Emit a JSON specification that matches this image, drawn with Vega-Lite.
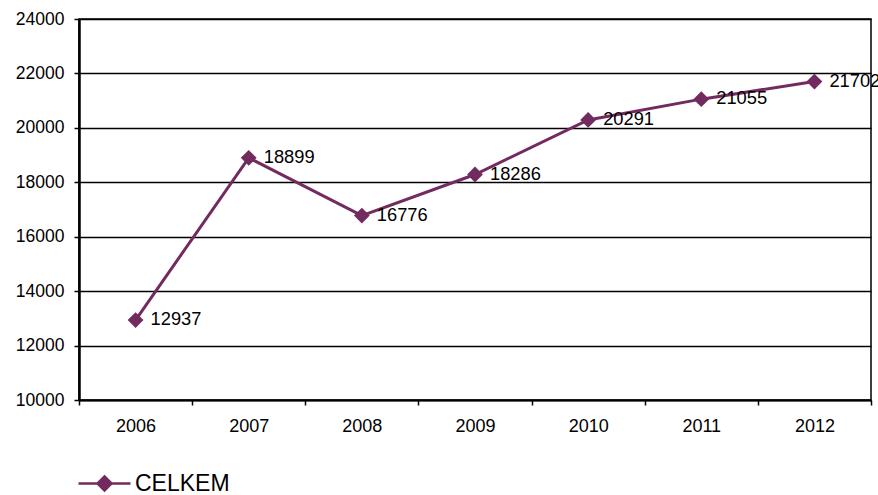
{
  "$schema": "https://vega.github.io/schema/vega-lite/v6.json",
  "width": 792,
  "height": 381,
  "autosize": "none",
  "padding": {"left": 79, "top": 19, "right": 7, "bottom": 95},
  "background": "white",
  "config": {
    "font": "Liberation Sans",
    "view": {"stroke": "black", "strokeWidth": 1.5}
  },
  "data": {
    "values": [
      {"year": "2006", "value": 12937, "series": "CELKEM"},
      {"year": "2007", "value": 18899, "series": "CELKEM"},
      {"year": "2008", "value": 16776, "series": "CELKEM"},
      {"year": "2009", "value": 18286, "series": "CELKEM"},
      {"year": "2010", "value": 20291, "series": "CELKEM"},
      {"year": "2011", "value": 21055, "series": "CELKEM"},
      {"year": "2012", "value": 21702, "series": "CELKEM"}
    ]
  },
  "encoding": {
    "x": {
      "field": "year",
      "type": "ordinal",
      "scale": {"type": "band", "paddingInner": 0, "paddingOuter": 0},
      "axis": {
        "title": null,
        "labelAngle": 0,
        "tickBand": "extent",
        "labelFontSize": 18,
        "labelPadding": 12,
        "labelColor": "black",
        "tickSize": 5,
        "tickColor": "black",
        "tickWidth": 1.5,
        "domainColor": "black",
        "domainWidth": 2
      }
    },
    "y": {
      "field": "value",
      "type": "quantitative",
      "scale": {"domain": [10000, 24000]},
      "axis": {
        "title": null,
        "values": [10000, 12000, 14000, 16000, 18000, 20000, 22000, 24000],
        "format": "d",
        "grid": true,
        "gridColor": "black",
        "gridOpacity": 1,
        "gridWidth": 1.4,
        "labelFontSize": 17.5,
        "labelPadding": 10,
        "labelColor": "black",
        "tickSize": 5,
        "tickColor": "black",
        "tickWidth": 1.5,
        "domainColor": "black",
        "domainWidth": 2.5
      }
    }
  },
  "layer": [
    {
      "mark": {"type": "line", "strokeWidth": 3},
      "encoding": {
        "color": {
          "field": "series",
          "type": "nominal",
          "scale": {"range": ["#722B5F"]},
          "legend": {
            "orient": "none",
            "legendX": -2,
            "legendY": 437,
            "title": null,
            "padding": 0,
            "symbolType": "M-1,0H1M0,-0.27L0.27,0L0,0.27L-0.27,0Z",
            "symbolSize": 2704,
            "symbolStrokeWidth": 2.5,
            "symbolFillColor": "#722B5F",
            "labelFontSize": 23,
            "labelColor": "black",
            "labelOffset": 3
          }
        }
      }
    },
    {
      "mark": {"type": "point", "shape": "diamond", "filled": true, "size": 250, "opacity": 1, "color": "#722B5F"}
    },
    {
      "mark": {"type": "text", "align": "left", "baseline": "middle", "dx": 15, "fontSize": 18.3, "color": "black"},
      "encoding": {"text": {"field": "value", "type": "quantitative", "format": "d"}}
    }
  ]
}
